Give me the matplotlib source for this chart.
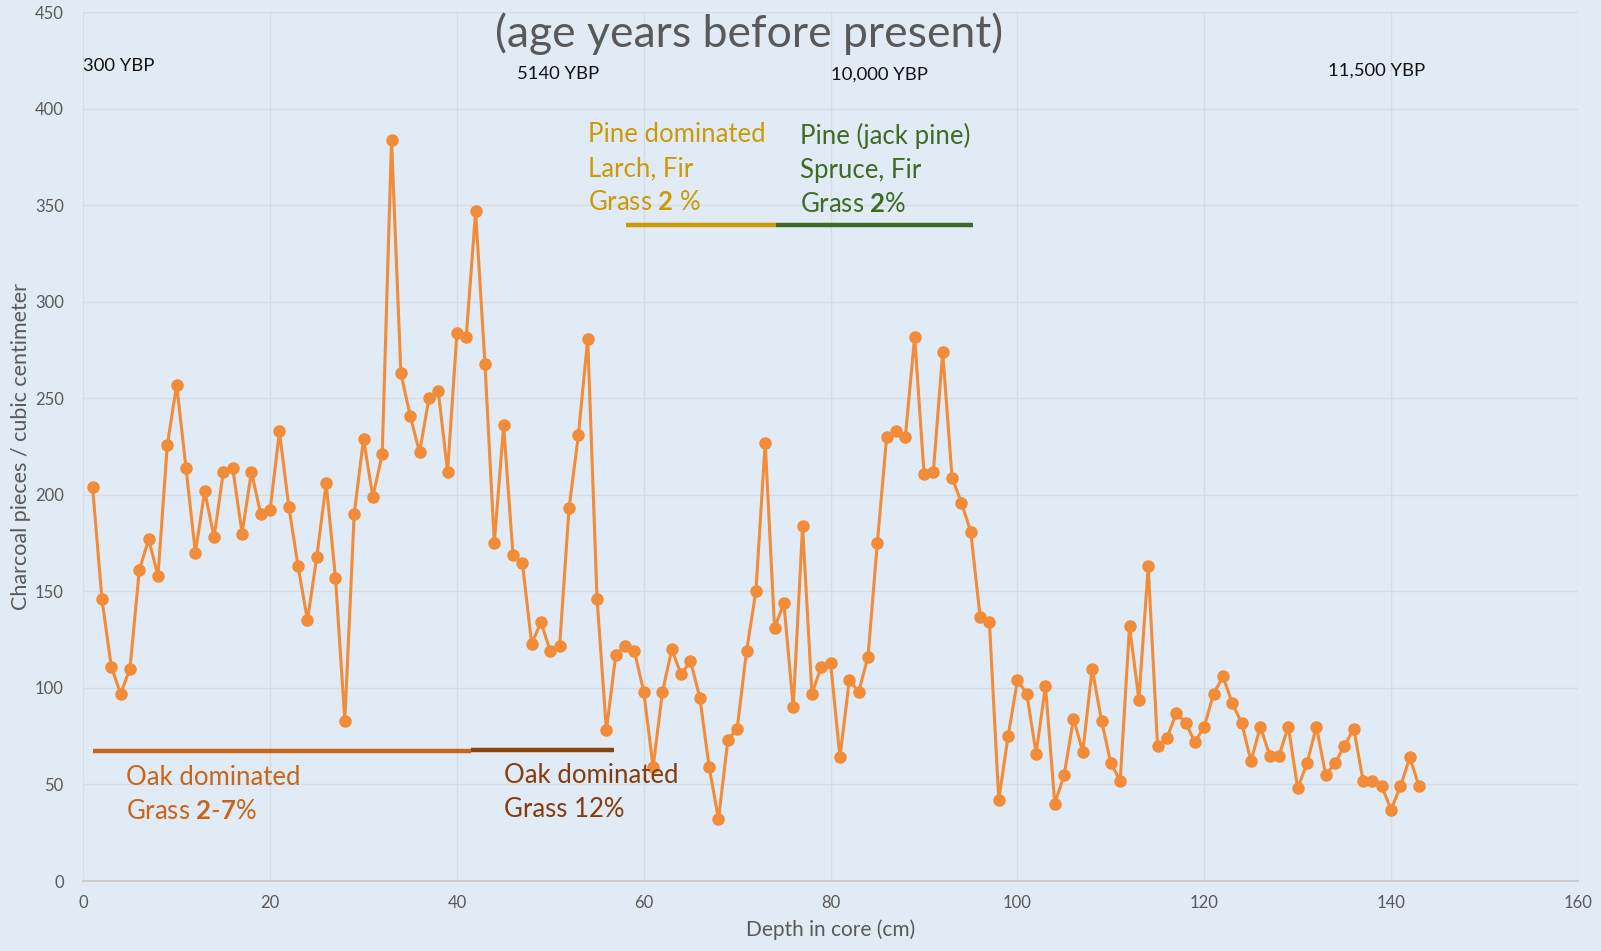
import matplotlib
matplotlib.use("Agg")
import matplotlib.pyplot as plt

plt.rcParams['font.family'] = ['Lato', 'DejaVu Sans']
plt.rcParams['mathtext.fontset'] = 'custom'
plt.rcParams['mathtext.rm'] = 'Lato'
plt.rcParams['mathtext.bf'] = 'Lato:bold'

# charcoal counts, one sample per cm of core
depth = list(range(1, 144))
charcoal = [
    204, 146, 111, 97, 110, 161, 177, 158, 226, 257,
    214, 170, 202, 178, 212, 214, 180, 212, 190, 192,
    233, 194, 163, 135, 168, 206, 157, 83, 190, 229,
    199, 221, 384, 263, 241, 222, 250, 254, 212, 284,
    282, 347, 268, 175, 236, 169, 165, 123, 134, 119,
    122, 193, 231, 281, 146, 78, 117, 122, 119, 98,
    59, 98, 120, 107, 114, 95, 59, 32, 73, 79,
    119, 150, 227, 131, 144, 90, 184, 97, 111, 113,
    64, 104, 98, 116, 175, 230, 233, 230, 282, 211,
    212, 274, 209, 196, 181, 137, 134, 42, 75, 104,
    97, 66, 101, 40, 55, 84, 67, 110, 83, 61,
    52, 132, 94, 163, 70, 74, 87, 82, 72, 80,
    97, 106, 92, 82, 62, 80, 65, 65, 80, 48,
    61, 80, 55, 61, 70, 79, 52, 52, 49, 37,
    49, 64, 49,
]

# age labels (depth, text)
age_pos = [0, 46.4, 80, 133.2]
age_txt = ["300 YBP", "5140 YBP", "10,000 YBP", "11,500 YBP"]
age_y = [422, 418, 418, 420]

# vegetation zones: (start, end, level)
zones = [
    (1, 41.5, 67.5, "#C8651B"),
    (41.5, 56.8, 68, "#8B4513"),
    (58.1, 74.2, 340, "#CC9A06"),
    (74.2, 95.2, 340, "#3F6B25"),
]

bg = "#E1EBF5"
fig = plt.figure(figsize=(16.01, 9.51), dpi=100, facecolor=bg)
ax = fig.add_axes([0.052, 0.0736, 0.9336, 0.9134], facecolor=bg)

ax.plot(depth, charcoal, color="#F28C38", lw=2.2, marker="o", ms=8, zorder=3)

for x0, x1, yv, c in zones:
    ax.plot([x0, x1], [yv, yv], color=c, lw=3.2, solid_capstyle="butt", zorder=2)

ax.set_xlim(0, 160)
ax.set_ylim(0, 450)
ax.set_xticks(range(0, 161, 20))
ax.set_yticks(range(0, 451, 50))
ax.grid(True, color="#D6DCE2", lw=1)
ax.set_axisbelow(True)
for s in ["top", "right", "left"]:
    ax.spines[s].set_visible(False)
ax.spines["bottom"].set_color("#CCCCCC")
ax.spines["bottom"].set_linewidth(1.5)
ax.tick_params(length=0, labelsize=12, labelcolor="#595959", pad=10)
ax.tick_params(axis="y", pad=14)

ax.set_xlabel("Depth in core (cm)", fontsize=15, color="#595959", labelpad=6)
ax.set_ylabel("Charcoal pieces / cubic centimeter", fontsize=15.5, color="#595959", labelpad=3)

ax.text(71.3, 439, "(age years before present)", fontsize=32, color="#595959",
        ha="center", va="center")
for x, y, t in zip(age_pos, age_y, age_txt):
    ax.text(x, y, t, fontsize=13.3, color="#111111", ha="left", va="center")

txt_kw = dict(fontsize=18.5, ha="left", va="top", linespacing=1.45)
ax.text(54.0, 393, "Pine dominated\nLarch, Fir\nGrass $\\mathbf{2}$ %", color="#CC9A06", **txt_kw)
ax.text(76.7, 393, "Pine (jack pine)\nSpruce, Fir\nGrass $\\mathbf{2}$%", color="#3F6B25", **txt_kw)
ax.text(4.6, 60, "Oak dominated\nGrass $\\mathbf{2\\text{-}7}$%", color="#C8651B", **txt_kw)
ax.text(45.0, 61, "Oak dominated\nGrass 12%", color="#843C0C", **txt_kw)

fig.savefig("out.png", dpi=100, facecolor=bg)
